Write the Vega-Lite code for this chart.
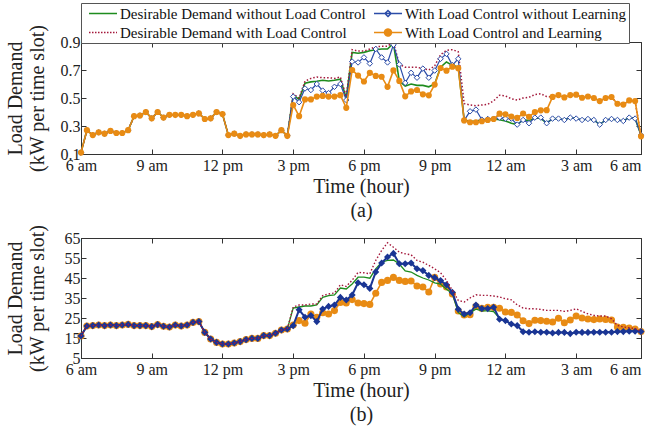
{
"$schema": "https://vega.github.io/schema/vega-lite/v6.json",
"background": "white",
"padding": {"left": 4, "top": 2, "right": 4, "bottom": 2},
"spacing": 2,
"config": {
  "font": "Liberation Serif",
  "view": {"stroke": "#333333", "strokeWidth": 1},
  "axis": {"labelFont": "Liberation Serif", "labelFontSize": 16, "labelColor": "#222222", "titleFont": "Liberation Serif", "titleFontSize": 20, "titleFontWeight": "normal", "titleColor": "#222222", "grid": false, "tickColor": "#333333", "domainColor": "#333333", "tickSize": -5, "labelPadding": 6, "labelFlush": false},
  "axisX": {"labelPadding": 8.5}
},
"datasets": {
"top": [
{"s":1,"G":0.11,"R":0.11,"B":0.11,"O":0.11},
{"s":2,"G":0.27,"R":0.27,"B":0.27,"O":0.27},
{"s":3,"G":0.235,"R":0.235,"B":0.235,"O":0.235},
{"s":4,"G":0.255,"R":0.255,"B":0.255,"O":0.255},
{"s":5,"G":0.245,"R":0.245,"B":0.245,"O":0.245},
{"s":6,"G":0.265,"R":0.265,"B":0.265,"O":0.265},
{"s":7,"G":0.25,"R":0.25,"B":0.25,"O":0.25},
{"s":8,"G":0.25,"R":0.25,"B":0.25,"O":0.25},
{"s":9,"G":0.27,"R":0.27,"B":0.27,"O":0.27},
{"s":10,"G":0.37,"R":0.37,"B":0.37,"O":0.37},
{"s":11,"G":0.375,"R":0.375,"B":0.375,"O":0.375},
{"s":12,"G":0.40,"R":0.40,"B":0.40,"O":0.40},
{"s":13,"G":0.355,"R":0.355,"B":0.355,"O":0.355},
{"s":14,"G":0.40,"R":0.40,"B":0.40,"O":0.40},
{"s":15,"G":0.36,"R":0.36,"B":0.36,"O":0.36},
{"s":16,"G":0.38,"R":0.38,"B":0.38,"O":0.38},
{"s":17,"G":0.38,"R":0.38,"B":0.38,"O":0.38},
{"s":18,"G":0.38,"R":0.38,"B":0.38,"O":0.38},
{"s":19,"G":0.37,"R":0.37,"B":0.37,"O":0.37},
{"s":20,"G":0.38,"R":0.38,"B":0.38,"O":0.38},
{"s":21,"G":0.39,"R":0.39,"B":0.39,"O":0.39},
{"s":22,"G":0.35,"R":0.35,"B":0.35,"O":0.35},
{"s":23,"G":0.355,"R":0.355,"B":0.355,"O":0.355},
{"s":24,"G":0.40,"R":0.40,"B":0.40,"O":0.40},
{"s":25,"G":0.385,"R":0.385,"B":0.385,"O":0.385},
{"s":26,"G":0.235,"R":0.235,"B":0.235,"O":0.235},
{"s":27,"G":0.245,"R":0.245,"B":0.245,"O":0.245},
{"s":28,"G":0.23,"R":0.23,"B":0.23,"O":0.23},
{"s":29,"G":0.24,"R":0.24,"B":0.24,"O":0.24},
{"s":30,"G":0.24,"R":0.24,"B":0.24,"O":0.24},
{"s":31,"G":0.24,"R":0.24,"B":0.24,"O":0.24},
{"s":32,"G":0.235,"R":0.235,"B":0.235,"O":0.235},
{"s":33,"G":0.24,"R":0.24,"B":0.24,"O":0.24},
{"s":34,"G":0.23,"R":0.23,"B":0.23,"O":0.23},
{"s":35,"G":0.27,"R":0.27,"B":0.27,"O":0.27},
{"s":36,"G":0.23,"R":0.23,"B":0.23,"O":0.23},
{"s":37,"G":0.52,"R":0.53,"B":0.51,"O":0.45},
{"s":38,"G":0.49,"R":0.50,"B":0.47,"O":0.37},
{"s":39,"G":0.605,"R":0.62,"B":0.568,"O":0.49},
{"s":40,"G":0.615,"R":0.64,"B":0.557,"O":0.49},
{"s":41,"G":0.62,"R":0.65,"B":0.60,"O":0.51},
{"s":42,"G":0.627,"R":0.645,"B":0.553,"O":0.515},
{"s":43,"G":0.622,"R":0.645,"B":0.535,"O":0.51},
{"s":44,"G":0.627,"R":0.64,"B":0.58,"O":0.51},
{"s":45,"G":0.635,"R":0.65,"B":0.60,"O":0.52},
{"s":46,"G":0.50,"R":0.51,"B":0.485,"O":0.43},
{"s":47,"G":0.826,"R":0.845,"B":0.76,"O":0.70},
{"s":48,"G":0.82,"R":0.835,"B":0.754,"O":0.66},
{"s":49,"G":0.826,"R":0.835,"B":0.79,"O":0.618},
{"s":50,"G":0.838,"R":0.85,"B":0.746,"O":0.68},
{"s":51,"G":0.845,"R":0.865,"B":0.85,"O":0.658},
{"s":52,"G":0.85,"R":0.87,"B":0.79,"O":0.652},
{"s":53,"G":0.85,"R":0.87,"B":0.754,"O":0.58},
{"s":54,"G":0.89,"R":0.90,"B":0.88,"O":0.697},
{"s":55,"G":0.62,"R":0.74,"B":0.74,"O":0.622},
{"s":56,"G":0.585,"R":0.72,"B":0.608,"O":0.512},
{"s":57,"G":0.60,"R":0.72,"B":0.68,"O":0.547},
{"s":58,"G":0.59,"R":0.72,"B":0.645,"O":0.557},
{"s":59,"G":0.59,"R":0.71,"B":0.71,"O":0.526},
{"s":60,"G":0.58,"R":0.70,"B":0.645,"O":0.519},
{"s":61,"G":0.60,"R":0.73,"B":0.696,"O":0.596},
{"s":62,"G":0.72,"R":0.81,"B":0.78,"O":0.714},
{"s":63,"G":0.757,"R":0.84,"B":0.815,"O":0.695},
{"s":64,"G":0.733,"R":0.845,"B":0.735,"O":0.724},
{"s":65,"G":0.72,"R":0.83,"B":0.78,"O":0.713},
{"s":66,"G":0.343,"R":0.46,"B":0.34,"O":0.34},
{"s":67,"G":0.334,"R":0.45,"B":0.405,"O":0.327},
{"s":68,"G":0.334,"R":0.445,"B":0.417,"O":0.327},
{"s":69,"G":0.343,"R":0.45,"B":0.345,"O":0.334},
{"s":70,"G":0.343,"R":0.455,"B":0.35,"O":0.343},
{"s":71,"G":0.35,"R":0.48,"B":0.352,"O":0.35},
{"s":72,"G":0.345,"R":0.52,"B":0.36,"O":0.388},
{"s":73,"G":0.336,"R":0.515,"B":0.353,"O":0.384},
{"s":74,"G":0.32,"R":0.495,"B":0.353,"O":0.368},
{"s":75,"G":0.31,"R":0.485,"B":0.31,"O":0.358},
{"s":76,"G":0.343,"R":0.50,"B":0.343,"O":0.389},
{"s":77,"G":0.34,"R":0.505,"B":0.32,"O":0.366},
{"s":78,"G":0.355,"R":0.525,"B":0.36,"O":0.40},
{"s":79,"G":0.355,"R":0.53,"B":0.36,"O":0.412},
{"s":80,"G":0.32,"R":0.51,"B":0.32,"O":0.413},
{"s":81,"G":0.353,"R":0.508,"B":0.353,"O":0.508},
{"s":82,"G":0.353,"R":0.521,"B":0.353,"O":0.521},
{"s":83,"G":0.343,"R":0.504,"B":0.343,"O":0.504},
{"s":84,"G":0.36,"R":0.521,"B":0.36,"O":0.521},
{"s":85,"G":0.353,"R":0.524,"B":0.353,"O":0.524},
{"s":86,"G":0.343,"R":0.502,"B":0.343,"O":0.502},
{"s":87,"G":0.35,"R":0.511,"B":0.35,"O":0.511},
{"s":88,"G":0.343,"R":0.50,"B":0.343,"O":0.50},
{"s":89,"G":0.31,"R":0.478,"B":0.31,"O":0.478},
{"s":90,"G":0.343,"R":0.50,"B":0.343,"O":0.50},
{"s":91,"G":0.35,"R":0.507,"B":0.35,"O":0.507},
{"s":92,"G":0.343,"R":0.459,"B":0.343,"O":0.459},
{"s":93,"G":0.336,"R":0.453,"B":0.336,"O":0.453},
{"s":94,"G":0.36,"R":0.483,"B":0.36,"O":0.483},
{"s":95,"G":0.353,"R":0.478,"B":0.353,"O":0.478},
{"s":96,"G":0.235,"R":0.226,"B":0.235,"O":0.226}
],
"bot": [
{"s":1,"G":16,"R":16,"B":16,"O":16},
{"s":2,"G":21,"R":21,"B":21,"O":21},
{"s":3,"G":21.2,"R":21.2,"B":21.2,"O":21.2},
{"s":4,"G":21.5,"R":21.5,"B":21.5,"O":21.5},
{"s":5,"G":21.2,"R":21.2,"B":21.2,"O":21.2},
{"s":6,"G":21.5,"R":21.5,"B":21.5,"O":21.5},
{"s":7,"G":21.2,"R":21.2,"B":21.2,"O":21.2},
{"s":8,"G":21.5,"R":21.5,"B":21.5,"O":21.5},
{"s":9,"G":21.8,"R":21.8,"B":21.8,"O":21.8},
{"s":10,"G":21.2,"R":21.2,"B":21.2,"O":21.2},
{"s":11,"G":21.2,"R":21.2,"B":21.2,"O":21.2},
{"s":12,"G":21.2,"R":21.2,"B":21.2,"O":21.2},
{"s":13,"G":20.7,"R":20.7,"B":20.7,"O":20.7},
{"s":14,"G":21.7,"R":21.7,"B":21.7,"O":21.7},
{"s":15,"G":20.9,"R":20.9,"B":20.9,"O":20.9},
{"s":16,"G":20.5,"R":20.5,"B":20.5,"O":20.5},
{"s":17,"G":21.5,"R":21.5,"B":21.5,"O":21.5},
{"s":18,"G":21,"R":21,"B":21,"O":21},
{"s":19,"G":21.5,"R":21.5,"B":21.5,"O":21.5},
{"s":20,"G":22.8,"R":22.8,"B":22.8,"O":22.8},
{"s":21,"G":23.2,"R":23.2,"B":23.2,"O":23.2},
{"s":22,"G":17.8,"R":17.8,"B":17.8,"O":17.8},
{"s":23,"G":14.5,"R":14.5,"B":14.5,"O":14.5},
{"s":24,"G":12.8,"R":12.8,"B":12.8,"O":12.8},
{"s":25,"G":12,"R":12,"B":12,"O":12},
{"s":26,"G":12,"R":12,"B":12,"O":12},
{"s":27,"G":12.5,"R":12.5,"B":12.5,"O":12.5},
{"s":28,"G":13.2,"R":13.2,"B":13.2,"O":13.2},
{"s":29,"G":14.2,"R":14.2,"B":14.2,"O":14.2},
{"s":30,"G":14.8,"R":14.8,"B":14.8,"O":14.8},
{"s":31,"G":14.8,"R":14.8,"B":14.8,"O":14.8},
{"s":32,"G":16.2,"R":16.2,"B":16.2,"O":16.2},
{"s":33,"G":16.2,"R":16.2,"B":16.2,"O":16.2},
{"s":34,"G":17.4,"R":17.4,"B":17.4,"O":17.4},
{"s":35,"G":19,"R":19,"B":19,"O":19},
{"s":36,"G":19.5,"R":19.5,"B":19.5,"O":19.5},
{"s":37,"G":30,"R":30.5,"B":21.2,"O":21.5},
{"s":38,"G":30.5,"R":31.5,"B":29.1,"O":23.7},
{"s":39,"G":31,"R":31.5,"B":25.4,"O":22.4},
{"s":40,"G":31,"R":32,"B":26.2,"O":27},
{"s":41,"G":31.5,"R":32,"B":23.2,"O":25.4},
{"s":42,"G":35.3,"R":36.2,"B":29.5,"O":27.6},
{"s":43,"G":36.2,"R":37,"B":30.8,"O":27},
{"s":44,"G":36.5,"R":37.5,"B":31.5,"O":28.7},
{"s":45,"G":40,"R":41.6,"B":35.3,"O":32.8},
{"s":46,"G":39.5,"R":40.8,"B":34,"O":32.5},
{"s":47,"G":42,"R":43.9,"B":36.5,"O":34.2},
{"s":48,"G":45.4,"R":47.8,"B":42.6,"O":32.5},
{"s":49,"G":45.4,"R":47.6,"B":41.6,"O":32.2},
{"s":50,"G":44.9,"R":47.1,"B":39.8,"O":31.8},
{"s":51,"G":49.6,"R":53.8,"B":48,"O":37.4},
{"s":52,"G":52.9,"R":58.8,"B":52.5,"O":42.8},
{"s":53,"G":53.8,"R":62.6,"B":55.5,"O":43.8},
{"s":54,"G":54,"R":60.4,"B":57.3,"O":45.3},
{"s":55,"G":52,"R":57.9,"B":52.1,"O":43.8},
{"s":56,"G":48.5,"R":57.1,"B":52.1,"O":43.3},
{"s":57,"G":48,"R":56.6,"B":52.5,"O":43.5},
{"s":58,"G":46.3,"R":53.8,"B":49.6,"O":41},
{"s":59,"G":45,"R":52.9,"B":48.7,"O":40.5},
{"s":60,"G":44,"R":51.3,"B":46.3,"O":38},
{"s":61,"G":42.6,"R":49.6,"B":45.2,"O":45.3},
{"s":62,"G":42,"R":47.6,"B":43.7,"O":42},
{"s":63,"G":39.4,"R":43.8,"B":41.6,"O":40.5},
{"s":64,"G":37.2,"R":38.8,"B":37.8,"O":37},
{"s":65,"G":27.7,"R":33.8,"B":29.4,"O":28.5},
{"s":66,"G":25.6,"R":33,"B":27,"O":26.5},
{"s":67,"G":27.7,"R":35,"B":27.6,"O":26.6},
{"s":68,"G":29.4,"R":36.6,"B":31.5,"O":30.8},
{"s":69,"G":28.6,"R":36.3,"B":29.7,"O":29.8},
{"s":70,"G":28.6,"R":36.3,"B":29.7,"O":30.3},
{"s":71,"G":28.2,"R":36,"B":30.4,"O":30.3},
{"s":72,"G":24.9,"R":35.5,"B":24.4,"O":29.9},
{"s":73,"G":23.5,"R":34.6,"B":23.7,"O":28},
{"s":74,"G":22.2,"R":34.1,"B":22,"O":27.8},
{"s":75,"G":21,"R":31.6,"B":21.2,"O":26.5},
{"s":76,"G":18.5,"R":30,"B":18.1,"O":23.6},
{"s":77,"G":17.9,"R":29.6,"B":17.9,"O":22.2},
{"s":78,"G":18.1,"R":29.6,"B":18.1,"O":23.9},
{"s":79,"G":17.9,"R":29.3,"B":17.9,"O":23.7},
{"s":80,"G":17.9,"R":28.8,"B":17.9,"O":23.4},
{"s":81,"G":17.5,"R":28.8,"B":17.5,"O":23},
{"s":82,"G":17.8,"R":28.8,"B":17.8,"O":24.9},
{"s":83,"G":17.8,"R":28.3,"B":17.8,"O":22.6},
{"s":84,"G":17.2,"R":28.8,"B":17.2,"O":24},
{"s":85,"G":17.9,"R":29.6,"B":17.9,"O":26},
{"s":86,"G":17.8,"R":28.3,"B":17.8,"O":25},
{"s":87,"G":17.8,"R":27.1,"B":17.8,"O":24.5},
{"s":88,"G":17.9,"R":26.3,"B":17.9,"O":24.2},
{"s":89,"G":17.9,"R":26,"B":17.9,"O":24.5},
{"s":90,"G":17.9,"R":26,"B":17.9,"O":24.3},
{"s":91,"G":17.9,"R":24.6,"B":17.9,"O":24},
{"s":92,"G":18.2,"R":21.3,"B":18.2,"O":20.5},
{"s":93,"G":18.2,"R":20.5,"B":18.2,"O":20.3},
{"s":94,"G":18.4,"R":20.1,"B":18.4,"O":20},
{"s":95,"G":18.4,"R":19.7,"B":18.4,"O":19.5},
{"s":96,"G":18.2,"R":18.3,"B":18.2,"O":18.2}
]
},
"vconcat": [
{
  "width": 560, "height": 112,
  "data": {"name": "top"},
  "transform": [{"fold": ["G","R","B","O"], "as": ["k","v"]}],
  "resolve": {"axis": {"x": "independent", "y": "independent"}},
  "layer": [
    {
      "encoding": {
        "x": {"field": "s", "type": "quantitative", "scale": {"domain": [1,96], "nice": false, "zero": false},
              "axis": {"values": [1,13,25,37,49,61,73,85,96], "labelExpr": "datum.value==1?'6 am':datum.value==13?'9 am':datum.value==25?'12 pm':datum.value==37?'3 pm':datum.value==49?'6 pm':datum.value==61?'9 pm':datum.value==73?'12 am':datum.value==85?'3 am':'6 am'", "labelAlign": {"condition": {"test": "datum.value == 96", "value": "right"}, "value": "center"}, "title": ["Time (hour)", "(a)"], "titleLineHeight": 24, "titlePadding": 3}},
        "y": {"field": "v", "type": "quantitative", "scale": {"domain": [0.1,0.9], "nice": false, "zero": false},
              "axis": {"values": [0.1,0.3,0.5,0.7,0.9], "format": ".1f", "title": ["Load Demand", "(kW per time slot)"], "titleLineHeight": 22, "titlePadding": 13}}
      },
      "layer": [
        {"transform": [{"filter": "datum.k == 'G'"}], "mark": {"type": "line", "strokeWidth": 1.6},
         "encoding": {"stroke": {"field": "k", "type": "nominal", "scale": {"domain": ["G","B","R","O"], "range": ["#1E8C1E","#2B4CA8","#A3173A","#E88B14"]},
           "legend": {"orient": "none", "legendX": 0, "legendY": -39, "direction": "horizontal", "columns": 2, "title": null,
             "labelExpr": "datum.value=='G'?'Desirable Demand without Load Control':datum.value=='R'?'Desirable Demand with Load Control':datum.value=='B'?'With Load Control without Learning   ':'With Load Control and Learning'",
             "labelFont": "Liberation Serif", "labelFontSize": 15, "labelColor": "#111111", "labelLimit": 400,
             "symbolSize": 196, "symbolStrokeWidth": 1.5, "strokeColor": "#555555", "fillColor": "white", "padding": 2.5, "rowPadding": 3, "columnPadding": 2, "labelOffset": 9, "symbolOffset": 11.5,
             "encode": {"symbols": {"update": {
               "shape": {"signal": "datum.value === 'B' ? 'M-2,0H2M0,-0.43L0.43,0L0,0.43L-0.43,0Z' : datum.value === 'O' ? 'M-2,0H2M0.5,0A0.5,0.5 0 1,1 -0.5,0A0.5,0.5 0 1,1 0.5,0Z' : 'M-2,0H2'"},
               "fill": {"signal": "datum.value === 'O' ? '#E88B14' : datum.value === 'B' ? 'white' : 'transparent'"},
               "strokeDash": {"signal": "datum.value === 'R' ? [1.5,1.5] : [1,0]"}
             }}}
           }}}},
        {"transform": [{"filter": "datum.k == 'R'"}], "mark": {"type": "line", "strokeWidth": 1.5, "strokeDash": [1.5,2]},
         "encoding": {"stroke": {"field": "k", "type": "nominal"}}},
        {"transform": [{"filter": "datum.k == 'B'"}], "mark": {"type": "line", "strokeWidth": 1.2},
         "encoding": {"stroke": {"field": "k", "type": "nominal"}}},
        {"transform": [{"filter": "datum.k == 'B'"}], "mark": {"type": "point", "shape": "diamond", "filled": true, "fill": "white", "stroke": "#2B4CA8", "strokeWidth": 1, "size": 30, "opacity": 1}},
        {"transform": [{"filter": "datum.k == 'O'"}], "mark": {"type": "line", "strokeWidth": 1.6},
         "encoding": {"stroke": {"field": "k", "type": "nominal"}}},
        {"transform": [{"filter": "datum.k == 'O'"}], "mark": {"type": "circle", "fill": "#E88B14", "size": 38, "opacity": 1}}
      ]
    },
    {
      "mark": {"type": "point", "opacity": 0},
      "encoding": {
        "x": {"field": "s", "type": "quantitative", "axis": {"orient": "top", "values": [1,13,25,37,49,61,73,85,96], "labels": false, "title": null, "domain": false}},
        "y": {"field": "v", "type": "quantitative", "axis": {"orient": "right", "values": [0.1,0.3,0.5,0.7,0.9], "labels": false, "title": null, "domain": false}}
      }
    }
  ]
},
{
  "width": 560, "height": 120,
  "data": {"name": "bot"},
  "transform": [{"fold": ["G","R","B","O"], "as": ["k","v"]}],
  "resolve": {"axis": {"x": "independent", "y": "independent"}},
  "layer": [
    {
      "encoding": {
        "x": {"field": "s", "type": "quantitative", "scale": {"domain": [1,96], "nice": false, "zero": false},
              "axis": {"values": [1,13,25,37,49,61,73,85,96], "labelExpr": "datum.value==1?'6 am':datum.value==13?'9 am':datum.value==25?'12 pm':datum.value==37?'3 pm':datum.value==49?'6 pm':datum.value==61?'9 pm':datum.value==73?'12 am':datum.value==85?'3 am':'6 am'", "labelAlign": {"condition": {"test": "datum.value == 96", "value": "right"}, "value": "center"}, "title": ["Time (hour)", "(b)"], "titleLineHeight": 24, "titlePadding": 3}},
        "y": {"field": "v", "type": "quantitative", "scale": {"domain": [5,65], "nice": false, "zero": false},
              "axis": {"values": [5,15,25,35,45,55,65], "title": ["Load Demand", "(kW per time slot)"], "titleLineHeight": 22, "titlePadding": 17}}
      },
      "layer": [
        {"transform": [{"filter": "datum.k == 'O'"}], "mark": {"type": "line", "strokeWidth": 1.6, "stroke": "#E88B14"}},
        {"transform": [{"filter": "datum.k == 'O'"}], "mark": {"type": "circle", "fill": "#E88B14", "size": 50, "opacity": 1}},
        {"transform": [{"filter": "datum.k == 'G'"}], "mark": {"type": "line", "strokeWidth": 1.3, "stroke": "#1E8C1E"}},
        {"transform": [{"filter": "datum.k == 'B'"}], "mark": {"type": "line", "strokeWidth": 2, "stroke": "#1A3594"}},
        {"transform": [{"filter": "datum.k == 'B'"}], "mark": {"type": "point", "shape": "diamond", "filled": true, "fill": "#1A3594", "size": 50, "opacity": 1}},
        {"transform": [{"filter": "datum.k == 'R'"}], "mark": {"type": "line", "strokeWidth": 1.4, "strokeDash": [1.5,2], "stroke": "#A3173A"}}
      ]
    },
    {
      "mark": {"type": "point", "opacity": 0},
      "encoding": {
        "x": {"field": "s", "type": "quantitative", "axis": {"orient": "top", "values": [1,13,25,37,49,61,73,85,96], "labels": false, "title": null, "domain": false}},
        "y": {"field": "v", "type": "quantitative", "axis": {"orient": "right", "values": [5,15,25,35,45,55,65], "labels": false, "title": null, "domain": false}}
      }
    }
  ]
}
]
}
